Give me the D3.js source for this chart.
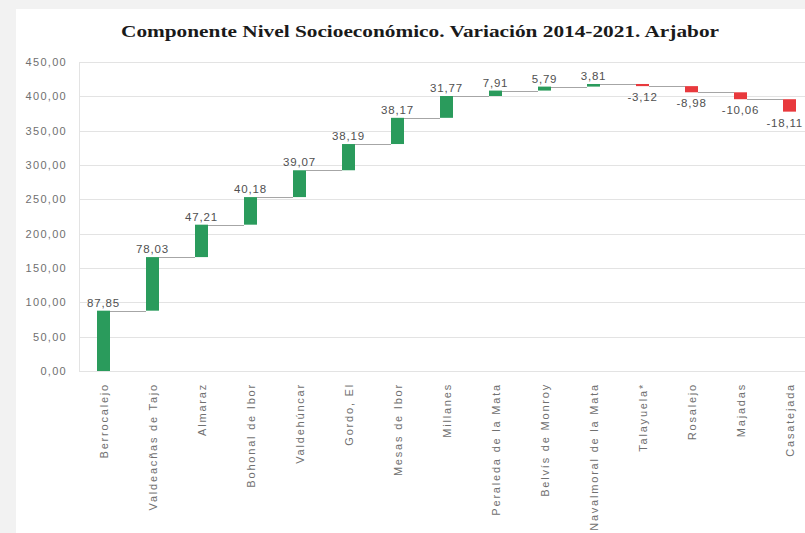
<!DOCTYPE html>
<html><head><meta charset="utf-8">
<script src="https://cdn.jsdelivr.net/npm/d3@7"></script>
<style>body{margin:0;background:#f2f2f2}svg{display:block}</style>
</head><body>
<svg id="c" width="805" height="533"></svg>
<script>
const categories = ["Berrocalejo","Valdeacñas de Tajo","Almaraz","Bohonal de Ibor","Valdehúncar","Gordo, El","Mesas de Ibor","Millanes","Peraleda de la Mata","Belvís de Monroy","Navalmoral de la Mata","Talayuela*","Rosalejo","Majadas","Casatejada"];
const changes = [87.85,78.03,47.21,40.18,39.07,38.19,38.17,31.77,7.91,5.79,3.81,-3.12,-8.98,-10.06,-18.11];
const yTicks = [0,50,100,150,200,250,300,350,400,450];
const title = "Componente Nivel Socioeconómico. Variación 2014-2021. Arjabor";

const loc = d3.formatLocale({decimal:",",thousands:".",grouping:[3],currency:["","€"],minus:"-"});
const f2 = loc.format(".2f");

const svg = d3.select("#c");
svg.append("rect").attr("x",16).attr("y",9).attr("width",789).attr("height",524).attr("fill","#ffffff");

let cum = 0;
const rows = categories.map((c,i)=>{const s=cum; cum+=changes[i]; return {c, v:changes[i], start:s, end:cum};});

const x = d3.scaleBand(categories,[79,814]).paddingInner(0.735).paddingOuter(0.3675);
const y = d3.scaleLinear([0,450],[371,62]);

svg.append("g").selectAll("line").data(yTicks).join("line")
  .attr("x1",79).attr("x2",805).attr("y1",d=>Math.round(y(d))+0.5).attr("y2",d=>Math.round(y(d))+0.5)
  .attr("stroke","#e3e3e3").attr("stroke-width",1);
svg.append("line").attr("x1",79.5).attr("x2",79.5).attr("y1",62).attr("y2",371).attr("stroke","#e3e3e3");

svg.append("g").selectAll("text").data(yTicks).join("text")
  .attr("x",67).attr("y",d=>y(d)+4).attr("text-anchor","end")
  .attr("font-family","Liberation Sans, Arial, sans-serif").attr("font-size",11).attr("letter-spacing",1.3).attr("fill","#707070")
  .text(d=>f2(d));

// connectors
svg.append("g").selectAll("line").data(rows.slice(0,-1)).join("line")
  .attr("x1",(d,i)=>x(d.c)+x.bandwidth()).attr("x2",(d,i)=>x(rows[i+1].c))
  .attr("y1",d=>Math.round(y(d.end))+0.5).attr("y2",d=>Math.round(y(d.end))+0.5)
  .attr("stroke","#a6a6a6").attr("stroke-width",1);

svg.append("g").selectAll("rect").data(rows).join("rect")
  .attr("x",d=>x(d.c)).attr("width",x.bandwidth())
  .attr("y",d=>y(Math.max(d.start,d.end))).attr("height",d=>Math.max(1,Math.abs(y(d.start)-y(d.end))))
  .attr("fill",d=>d.v>=0?"#2a9b5c":"#e8393d");

svg.append("g").selectAll("text").data(rows).join("text")
  .attr("x",d=>x(d.c)+x.bandwidth()/2)
  .attr("y",d=>d.v>=0? y(d.end)-4 : y(d.end)+15)
  .attr("text-anchor","middle").attr("font-family","Liberation Sans, Arial, sans-serif")
  .attr("font-size",11.5).attr("letter-spacing",0.8).attr("fill","#505050").text(d=>f2(d.v))
  .each(function(){
    const b=this.getBBox(); const over=b.x+b.width-803;
    if(over>0) d3.select(this).attr("x",+d3.select(this).attr("x")-over);
  });

svg.append("g").selectAll("text").data(rows).join("text")
  .attr("transform",d=>`translate(${x(d.c)+x.bandwidth()/2+4},383) rotate(-90)`)
  .attr("text-anchor","end").attr("font-family","Liberation Sans, Arial, sans-serif")
  .attr("font-size",11).attr("letter-spacing",1.8).attr("fill","#707070").text(d=>d.c);

svg.append("text").attr("x",420).attr("y",37).attr("text-anchor","middle")
  .attr("font-family","Liberation Serif, Times New Roman, serif").attr("font-weight","bold")
  .attr("font-size",16).attr("fill","#1a1a1a").attr("textLength",598).attr("lengthAdjust","spacingAndGlyphs")
  .text(title);
</script>
</body></html>
